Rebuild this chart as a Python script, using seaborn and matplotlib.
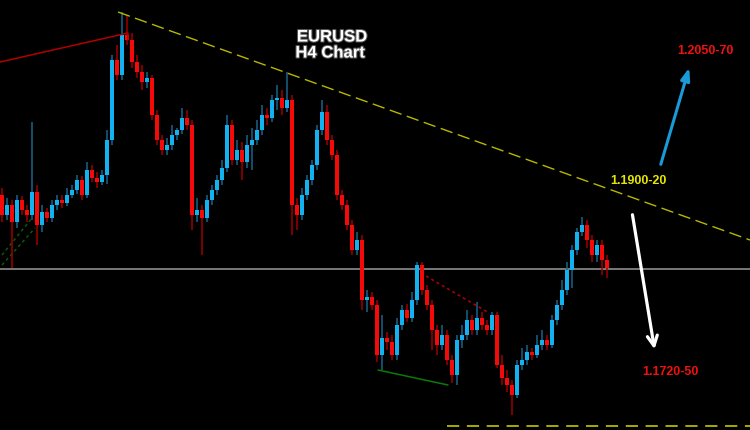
import numpy as np
import matplotlib
matplotlib.use("Agg")
import matplotlib.pyplot as plt
import matplotlib.patheffects as pe
import seaborn as sns
import pandas as pd

# EURUSD H4 candles
opens = [1.1896, 1.1876, 1.1886, 1.1869, 1.1891, 1.1881, 1.1876, 1.1899, 1.1866, 1.1879,
         1.1873, 1.1886, 1.1891, 1.1888, 1.1896, 1.1901, 1.1911, 1.1896, 1.1921, 1.1913,
         1.1909, 1.1916, 1.1951, 1.2031, 1.2016, 1.2056, 1.2051, 1.2029, 1.2019, 1.2009,
         1.2013, 1.1976, 1.1951, 1.1941, 1.1946, 1.1956, 1.1961, 1.1973, 1.1966, 1.1876,
         1.1881, 1.1873, 1.1891, 1.1901, 1.1911, 1.1923, 1.1966, 1.1931, 1.1941, 1.1929,
         1.1946, 1.1951, 1.1961, 1.1976, 1.1973, 1.1991, 1.1993, 1.1983, 1.1991, 1.1886,
         1.1876, 1.1896, 1.1911, 1.1926, 1.1961, 1.1979, 1.1951, 1.1936, 1.1896, 1.1886,
         1.1866, 1.1841, 1.1851, 1.1791, 1.1794, 1.1786, 1.1736, 1.1753, 1.1749, 1.1736,
         1.1766, 1.1781, 1.1773, 1.1791, 1.1826, 1.1801, 1.1786, 1.1761, 1.1746, 1.1756,
         1.1731, 1.1716, 1.1751, 1.1756, 1.1771, 1.1761, 1.1773, 1.1766, 1.1761, 1.1776,
         1.1726, 1.1713, 1.1706, 1.1696, 1.1726, 1.1731, 1.1739, 1.1736, 1.1746, 1.1751,
         1.1746, 1.1771, 1.1786, 1.1801, 1.1821, 1.1841, 1.1859, 1.1866, 1.1851, 1.1836,
         1.1846, 1.1831]
highs = [1.1903, 1.1893, 1.1891, 1.1896, 1.1895, 1.1886, 1.1969, 1.1906, 1.1886, 1.1883,
         1.1891, 1.1896, 1.1896, 1.1903, 1.1906, 1.1916, 1.1915, 1.1929, 1.1926, 1.1919,
         1.1921, 1.1961, 1.2036, 1.2046, 1.2079, 1.2076, 1.2058, 1.2036, 1.2026, 1.2019,
         1.2016, 1.1981, 1.1956, 1.1953, 1.1966, 1.1963, 1.1983, 1.1981, 1.1971, 1.1893,
         1.1886, 1.1896, 1.1906, 1.1916, 1.1931, 1.1976, 1.1971, 1.1951, 1.1949, 1.1956,
         1.1963, 1.1971, 1.1986, 1.1983, 1.1996, 1.2006, 1.2001, 1.2019, 1.1996, 1.1893,
         1.1903, 1.1916, 1.1931, 1.1966, 1.1991, 1.1986, 1.1956, 1.1941, 1.1901, 1.1891,
         1.1871, 1.1859, 1.1856, 1.1801, 1.1799, 1.1791, 1.1776, 1.1759, 1.1756, 1.1773,
         1.1786, 1.1787, 1.1799, 1.1829, 1.1829, 1.1806, 1.1791, 1.1766, 1.1766, 1.1761,
         1.1736, 1.1756, 1.1766, 1.1781, 1.1776, 1.1789, 1.1779, 1.1771, 1.1779, 1.1779,
         1.1736, 1.1721, 1.1711, 1.1731, 1.1743, 1.1746, 1.1743, 1.1756, 1.1761, 1.1756,
         1.1776, 1.1791, 1.1811, 1.1829, 1.1846, 1.1863, 1.1874, 1.1871, 1.1856, 1.1851,
         1.1851, 1.1836]
lows = [1.1869, 1.1871, 1.1823, 1.1863, 1.1876, 1.1869, 1.1871, 1.1846, 1.1859, 1.1869,
        1.1869, 1.1881, 1.1883, 1.1885, 1.1893, 1.1897, 1.1891, 1.1893, 1.1909, 1.1903,
        1.1906, 1.1907, 1.1946, 1.2011, 1.2011, 1.2046, 1.2023, 1.2013, 1.2001, 1.2003,
        1.1971, 1.1946, 1.1936, 1.1936, 1.1941, 1.1951, 1.1957, 1.1961, 1.1861, 1.1869,
        1.1836, 1.1869, 1.1886, 1.1896, 1.1906, 1.1919, 1.1926, 1.1926, 1.1911, 1.1923,
        1.1921, 1.1946, 1.1956, 1.1966, 1.1969, 1.1981, 1.1976, 1.1979, 1.1856, 1.1861,
        1.1871, 1.1891, 1.1906, 1.1921, 1.1956, 1.1946, 1.1931, 1.1891, 1.1881, 1.1861,
        1.1836, 1.1836, 1.1781, 1.1779, 1.1781, 1.1729, 1.1721, 1.1741, 1.1731, 1.1731,
        1.1761, 1.1769, 1.1769, 1.1786, 1.1796, 1.1781, 1.1741, 1.1736, 1.1741, 1.1726,
        1.1708, 1.1706, 1.1743, 1.1751, 1.1756, 1.1756, 1.1761, 1.1756, 1.1756, 1.1723,
        1.1706, 1.1699, 1.1676, 1.1693, 1.1721, 1.1726, 1.1731, 1.1733, 1.1741, 1.1741,
        1.1743, 1.1766, 1.1781, 1.1796, 1.1803, 1.1836, 1.1855, 1.1843, 1.1829, 1.1829,
        1.1816, 1.1813]
closes = [1.1876, 1.1886, 1.1869, 1.1891, 1.1881, 1.1876, 1.1899, 1.1866, 1.1879, 1.1873,
          1.1886, 1.1891, 1.1888, 1.1896, 1.1901, 1.1911, 1.1896, 1.1921, 1.1913, 1.1909,
          1.1916, 1.1951, 1.2031, 1.2016, 1.2056, 1.2051, 1.2029, 1.2019, 1.2009, 1.2013,
          1.1976, 1.1951, 1.1941, 1.1946, 1.1956, 1.1961, 1.1973, 1.1966, 1.1876, 1.1881,
          1.1873, 1.1891, 1.1901, 1.1911, 1.1923, 1.1966, 1.1931, 1.1941, 1.1929, 1.1946,
          1.1951, 1.1961, 1.1976, 1.1973, 1.1991, 1.1993, 1.1983, 1.1991, 1.1886, 1.1876,
          1.1896, 1.1911, 1.1926, 1.1961, 1.1979, 1.1951, 1.1936, 1.1896, 1.1886, 1.1866,
          1.1841, 1.1851, 1.1791, 1.1794, 1.1786, 1.1736, 1.1753, 1.1749, 1.1736, 1.1766,
          1.1781, 1.1773, 1.1791, 1.1826, 1.1801, 1.1786, 1.1761, 1.1746, 1.1756, 1.1731,
          1.1716, 1.1751, 1.1756, 1.1771, 1.1761, 1.1773, 1.1766, 1.1761, 1.1776, 1.1726,
          1.1713, 1.1706, 1.1696, 1.1726, 1.1731, 1.1739, 1.1736, 1.1746, 1.1751, 1.1746,
          1.1771, 1.1786, 1.1801, 1.1821, 1.1841, 1.1859, 1.1866, 1.1851, 1.1836, 1.1846,
          1.1831, 1.1823]

support_level = 1.1822
target_up = "1.2050-70"
breakout = "1.1900-20"
target_down = "1.1720-50"

df = pd.DataFrame({"open": opens, "high": highs, "low": lows, "close": closes})
df["bar"] = np.arange(len(df))
df["up"] = df["close"] >= df["open"]

sns.set_theme(style="dark", rc={"axes.facecolor": "black", "figure.facecolor": "black"})
plt.rcParams["font.family"] = ["Liberation Sans", "DejaVu Sans"]

fig = plt.figure(figsize=(7.5, 4.3), dpi=100)
ax = fig.add_axes([0, 0, 1, 1])
ax.set_facecolor("black")

pal = {True: "#12b2f0", False: "#f50a0a"}
wick_pal = {True: "#17648c", False: "#a00000"}

for up, grp in df.groupby("up"):
    ax.vlines(grp["bar"], grp["low"], grp["high"], color=wick_pal[up], lw=1.1, zorder=2)
    body = (grp["close"] - grp["open"]).abs().clip(lower=0.00012)
    ax.bar(grp["bar"], body, bottom=grp[["open", "close"]].min(axis=1), width=0.72,
           color=pal[up], linewidth=0, zorder=3)

# horizontal level
ax.axhline(support_level, color="#9a9a9a", lw=1.1, zorder=1)

# descending trendline
ax.plot([23.2, 149.6], [1.2079, 1.1851], color="#b8b800", lw=1.0, dashes=(9, 4), zorder=4)
# bottom dashed level
ax.plot([89, 149.6], [1.1665, 1.1665], color="#d8d800", lw=1.1, dashes=(8, 5), zorder=4)
# red line into the top
ax.plot([-0.4, 25.2, 25.2], [1.2029, 1.2058, 1.2051], color="#b00000", lw=1.1, zorder=4)
# green dotted lines bottom left
ax.plot([0, 6.6], [1.1826, 1.1863], color="#0a5a0a", lw=1.1, ls=(0, (2, 2)), zorder=1)
ax.plot([0, 6.0], [1.1836, 1.1873], color="#0a5a0a", lw=1.1, ls=(0, (2, 2)), zorder=1)
# red dotted line
ax.plot([84.8, 97.4], [1.1815, 1.1778], color="#b00000", lw=1.1, ls=(0, (2, 2)), zorder=4)
# green solid line under lows
ax.plot([75.2, 89.2], [1.1721, 1.1706], color="#0a7a0a", lw=1.1, zorder=4)

# arrows
ax.annotate("", xy=(137.6, 1.2026), xytext=(131.6, 1.1924),
            arrowprops=dict(arrowstyle="-|>,head_length=0.6,head_width=0.22",
                            color="#1a9ad6", lw=2.2))
ax.annotate("", xy=(130.6, 1.1739), xytext=(126.0, 1.1879),
            arrowprops=dict(arrowstyle="->,head_length=0.6,head_width=0.3",
                            color="white", lw=2.3))

# labels
outline = [pe.withStroke(linewidth=1.5, foreground="#555555")]
ax.text(66, 1.2054, "EURUSD", color="white", fontsize=12, fontweight="bold",
        ha="center", va="center", path_effects=outline)
ax.text(65.6, 1.2038, "H4 Chart", color="white", fontsize=12, fontweight="bold",
        ha="center", va="center", path_effects=outline)
ax.text(140.6, 1.2040, target_up, color="#f01010", fontsize=9, fontweight="bold", ha="center", va="center")
ax.text(127.2, 1.1910, breakout, color="#e6e600", fontsize=9, fontweight="bold", ha="center", va="center")
ax.text(133.6, 1.1719, target_down, color="#f01010", fontsize=9, fontweight="bold", ha="center", va="center")

ax.set_xlim(-0.4, 149.6)
ax.set_ylim(1.1661, 1.2091)
ax.axis("off")
plt.savefig("out.png", dpi=100, facecolor="black")
